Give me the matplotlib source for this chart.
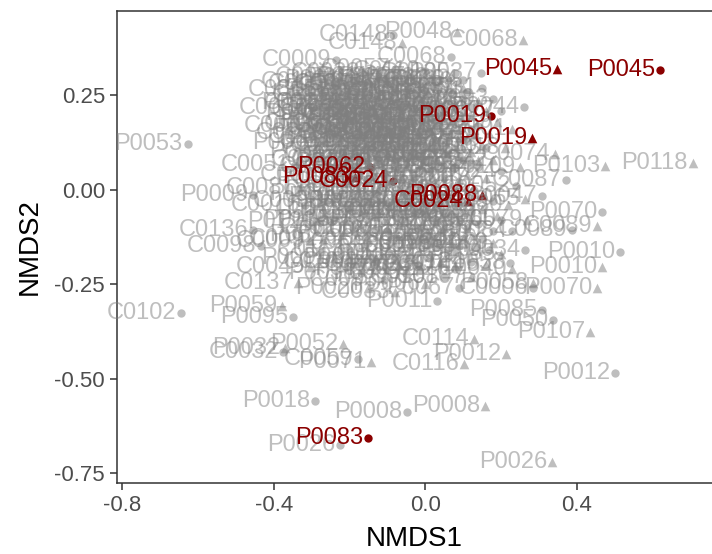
import matplotlib
matplotlib.use("Agg")
import matplotlib.pyplot as plt

plt.rcParams["font.family"] = ["Liberation Sans", "DejaVu Sans"]

# NMDS scores, method A (circles)
circle_ids = [
    "C0148", "C0068", "C0009", "P0037", "P0045", "P0044", "P0019", "C0087",
    "C0047", "P0070", "C0089", "P0010", "P0034", "P0058", "C0006", "P0085",
    "P0050", "P0012", "P0008", "P0083", "P0026", "P0018", "C0032", "C0059",
    "C0102", "P0095", "C0098", "C0136", "P0009", "P0053", "P0011",
    "C0135", "C0015", "C0056", "C0003", "P0015", "C0051", "C0081", "C0016",
    "P0128", "C0094", "C0023", "P0131", "C0057", "P0027", "C0110", "P0066",
    "C0125", "P0001", "C0031", "P0093", "C0077", "C0012", "P0040", "C0045",
    "P0016", "C0062", "P0078", "C0142", "P0029", "C0019", "P0039", "C0072",
    "P0097", "C0008", "P0060", "C0100", "P0004", "C0043", "P0080", "C0117",
    "C0130", "P0102", "C0035", "P0055", "C0127", "P0021", "C0061", "P0090",
    "C0106", "P0035", "C0083", "P0047", "C0071", "P0110", "C0029", "P0068",
    "C0097", "P0005", "C0119", "P0086", "C0044", "P0024", "C0017", "P0081",
    "C0063", "P0030", "C0105", "P0073", "C0082", "P0100", "C0128", "P0013",
    "C0052", "C0090", "P0057", "C0039", "P0092", "C0011", "P0113", "C0099",
    "P0003", "C0065", "P0116", "C0027", "P0049", "C0085", "P0076", "C0134",
    "P0061", "C0002", "P0099", "C0146", "P0084", "C0113", "P0064", "C0053",
    "P0031", "C0079", "P0115", "C0124", "P0038", "C0093", "P0065", "C0108",
    "P0067", "C0024", "P0062",
    "C0050", "P0017", "C0076", "P0114", "C0036", "P0094", "C0123", "P0063",
    "C0088", "P0069", "C0101", "P0022", "C0048", "P0087", "C0013", "P0105",
    "C0139", "P0051", "C0020", "P0077", "C0095", "P0101", "C0066", "P0028",
    "C0121", "P0043", "C0030", "P0098", "C0096", "P0007", "C0112", "P0075",
    "C0018", "P0111", "C0073", "P0036", "C0131", "P0089", "C0055", "P0023",
    "C0010", "P0117", "C0042", "P0109", "C0069", "P0041", "C0103",
    "P0082", "C0141", "P0046", "C0028", "P0072", "C0080", "P0056", "C0014",
    "P0104", "C0067", "P0033", "C0126",
]
circle_x = [
    -0.084, 0.069, -0.235, 0.148, 0.620, 0.261, 0.174, 0.372,
    0.309, 0.467, 0.388, 0.515, 0.264, 0.224, 0.285, 0.309,
    0.338, 0.502, -0.048, -0.150, -0.224, -0.290, -0.375, -0.177,
    -0.644, -0.349, -0.433, -0.454, -0.454, -0.628, 0.032,
    -0.238, -0.272, -0.296, -0.283, -0.264, -0.343, -0.330, -0.317,
    -0.277, -0.200, -0.160, -0.120, -0.080, -0.040, 0.000, 0.040,
    0.080, 0.110, 0.150, 0.180, 0.200, -0.210, -0.170, -0.130,
    -0.090, -0.050, -0.010, 0.030, 0.070, 0.120, -0.230, -0.190,
    -0.150, -0.110, -0.070, -0.030, 0.010, 0.050, 0.090, 0.140,
    -0.250, -0.210, -0.170, -0.130, -0.090, -0.050, -0.010, 0.030,
    0.070, 0.110, 0.160, -0.220, -0.180, -0.140, -0.100, -0.060,
    -0.020, 0.020, 0.060, 0.100, 0.140, 0.200, -0.240, -0.200,
    -0.110, -0.070, -0.030, 0.010, 0.050, 0.090, 0.130, 0.180,
    0.240, -0.260, -0.170, -0.130, -0.050, 0.000, 0.040, 0.080,
    0.120, 0.200, -0.240, -0.190, -0.140, -0.100, -0.060, -0.020,
    0.030, 0.070, 0.110, 0.150, 0.230, -0.200, -0.150, -0.090,
    -0.040, 0.010, 0.060, 0.120, -0.170, -0.110, -0.050, 0.050,
    0.090, -0.085, -0.145,
    -0.150, -0.100, -0.030, 0.020, 0.060, 0.100, -0.230, -0.180,
    -0.140, -0.090, -0.060, -0.020, 0.020, 0.060, 0.100, -0.200,
    -0.160, -0.120, -0.080, -0.040, 0.000, 0.040, 0.080, 0.120,
    -0.190, -0.150, -0.110, -0.070, -0.030, 0.010, 0.050, 0.090,
    -0.160, -0.120, -0.080, -0.040, 0.000, 0.040, 0.080, 0.120,
    -0.150, -0.040, 0.030, -0.090, -0.200, 0.100, -0.010,
    -0.120, -0.020, 0.060, 0.140, 0.180, -0.070, 0.030, 0.090,
    0.170, -0.130, -0.020, 0.080,
]
circle_y = [
    0.411, 0.353, 0.345, 0.310, 0.318, 0.220, 0.196, 0.027,
    -0.016, -0.058, -0.106, -0.164, -0.159, -0.193, -0.260, -0.318,
    -0.345, -0.485, -0.589, -0.658, -0.676, -0.560, -0.430, -0.448,
    -0.326, -0.337, -0.149, -0.106, -0.013, 0.122, -0.294,
    0.286, 0.265, 0.217, 0.170, 0.125, 0.066, 0.005, -0.040,
    -0.085, 0.300, 0.310, 0.295, 0.320, 0.300, 0.315, 0.290,
    0.310, 0.260, 0.270, 0.240, 0.210, 0.250, 0.260, 0.240,
    0.265, 0.250, 0.270, 0.245, 0.255, 0.220, 0.200, 0.215,
    0.195, 0.210, 0.190, 0.215, 0.200, 0.210, 0.190, 0.170,
    0.150, 0.160, 0.140, 0.165, 0.150, 0.160, 0.140, 0.170,
    0.150, 0.130, 0.110, 0.100, 0.090, 0.110, 0.095, 0.115,
    0.090, 0.110, 0.095, 0.080, 0.060, 0.050, 0.040, 0.030,
    0.040, 0.055, 0.030, 0.050, 0.030, 0.020, 0.000, -0.030,
    0.010, -0.030, -0.020, -0.010, -0.015, -0.030, -0.010, -0.040,
    -0.060, -0.080, -0.080, -0.100, -0.070, -0.110, -0.080, -0.100,
    -0.080, -0.120, -0.100, -0.130, -0.110, -0.160, -0.140, -0.170,
    -0.150, -0.180, -0.160, -0.190, -0.220, -0.240, -0.220, -0.230,
    -0.260, 0.024, 0.061,
    0.280, 0.280, 0.290, 0.275, 0.290, 0.290, 0.230, 0.240,
    0.215, 0.235, 0.220, 0.240, 0.225, 0.235, 0.240, 0.185,
    0.175, 0.190, 0.175, 0.190, 0.180, 0.195, 0.175, 0.160,
    0.130, 0.150, 0.130, 0.140, 0.125, 0.150, 0.120, 0.135,
    0.080, 0.070, 0.080, 0.090, 0.080, 0.060, 0.060, 0.070,
    0.020, 0.010, 0.000, -0.040, -0.050, -0.130, -0.060,
    -0.030, -0.050, -0.070, -0.090, -0.110, -0.130, -0.140, -0.150,
    -0.160, -0.190, -0.200, -0.210,
]

# NMDS scores, method B (triangles)
tri_ids = [
    "P0048", "C0148", "C0068", "P0045", "C0140", "P0019", "C0074", "P0103",
    "P0118", "C0065", "C0089", "P0010", "P0070", "C0040", "P0058", "P0107",
    "C0114", "P0012", "C0116", "P0008", "P0026", "P0052", "P0032", "P0071",
    "P0059", "C0137", "C0009", "C0049", "P0042",
    "C0050", "P0017", "C0076", "P0114", "C0036", "P0094", "C0123", "P0063",
    "C0088", "P0069", "C0101", "P0022", "C0048", "P0087", "C0013", "P0105",
    "C0139", "P0051", "C0020", "P0077", "C0095", "P0101", "C0066", "P0028",
    "C0121", "P0043", "C0030", "P0098", "C0096", "P0007", "C0112", "P0075",
    "C0018", "P0111", "C0073", "P0036", "C0131", "P0089", "C0055", "P0023",
    "C0010", "P0117", "C0042", "P0109", "C0069", "P0041", "C0103", "P0082",
    "C0141", "P0046", "C0028", "P0072", "C0080", "P0056", "C0014", "P0104",
    "C0067", "P0033", "C0126", "P0108", "C0034", "P0079", "C0092", "P0025",
    "C0129", "P0106", "C0046", "P0119", "C0120", "P0002", "C0060", "P0054",
    "C0070", "P0091", "C0109", "P0014", "C0037", "P0096", "C0078", "P0074",
    "C0115", "P0020", "C0033", "P0006", "C0107",
    "P0083", "C0024", "P0088",
    "C0135", "C0015", "C0056", "C0003", "P0015", "C0051", "C0081", "C0016",
    "P0128", "C0094", "C0023", "P0131", "C0057", "P0027", "C0110", "P0066",
    "C0125", "P0001", "C0031", "P0093", "C0077", "C0012", "P0040", "C0045",
    "P0016", "C0062", "P0078", "C0142", "P0029", "C0019", "P0039", "C0072",
    "P0097", "C0008", "P0060", "C0100", "P0004", "C0043", "P0080", "C0117",
    "C0130", "P0102", "C0035", "P0055",
    "C0090", "P0057", "C0039", "P0092", "C0011", "P0113", "C0099", "P0003",
    "C0027", "P0049", "C0085", "P0076",
]
tri_x = [
    0.084, -0.061, 0.259, 0.349, 0.087, 0.283, 0.343, 0.475,
    0.707, 0.264, 0.454, 0.467, 0.454, 0.230, 0.285, 0.436,
    0.129, 0.213, 0.103, 0.158, 0.335, -0.217, -0.370, -0.143,
    -0.378, -0.335, -0.304, -0.304, -0.013,
    -0.220, -0.180, -0.140, -0.100, -0.060, -0.020, 0.020, 0.060,
    0.140, 0.190, 0.230, -0.240, -0.200, -0.160, -0.120, -0.080,
    -0.040, 0.000, 0.040, 0.080, 0.120, 0.170, -0.230, -0.190,
    -0.150, -0.110, -0.070, -0.030, 0.010, 0.050, 0.090, 0.130,
    0.210, -0.200, -0.160, -0.120, -0.080, -0.040, 0.000, 0.040,
    0.080, 0.120, 0.180, 0.250, -0.190, -0.150, -0.050, -0.010,
    0.030, 0.070, 0.110, 0.160, 0.220, -0.220, -0.180, -0.100,
    -0.010, 0.020, 0.060, 0.100, 0.150, 0.270, -0.270, -0.220,
    -0.170, -0.120, -0.080, -0.030, 0.010, 0.050, 0.090, 0.130,
    0.180, -0.240, -0.180, -0.130, -0.070, -0.010, 0.030, 0.080,
    0.160, -0.150, -0.080, 0.000, 0.120,
    -0.185, 0.113, 0.150,
    -0.200, -0.160, -0.120, -0.050, 0.000, 0.100, 0.160, -0.210,
    -0.170, -0.130, -0.100, -0.060, -0.020, 0.020, 0.060, 0.100,
    -0.220, -0.180, -0.140, -0.060, -0.020, 0.020, 0.060, 0.100,
    0.150, -0.210, -0.130, -0.090, -0.030, 0.010, 0.050, 0.090,
    0.140, -0.120, -0.060, 0.020, 0.080, 0.130, -0.150, -0.040,
    0.050, -0.110, 0.120, -0.200,
    -0.100, -0.040, 0.040, 0.100, 0.190, -0.150, 0.070, 0.130,
    -0.040, 0.040, 0.200, -0.100,
]
tri_y = [
    0.419, 0.390, 0.398, 0.321, 0.286, 0.138, 0.095, 0.064,
    0.072, -0.024, -0.095, -0.204, -0.260, -0.211, -0.246, -0.377,
    -0.395, -0.435, -0.462, -0.573, -0.720, -0.408, -0.420, -0.456,
    -0.308, -0.247, -0.135, -0.205, -0.210,
    0.280, 0.290, 0.275, 0.300, 0.285, 0.270, 0.295, 0.270,
    0.235, 0.180, 0.160, 0.230, 0.230, 0.225, 0.255, 0.230,
    0.235, 0.225, 0.230, 0.225, 0.195, 0.150, 0.175, 0.185,
    0.170, 0.185, 0.170, 0.180, 0.165, 0.185, 0.160, 0.145,
    0.110, 0.120, 0.115, 0.130, 0.120, 0.135, 0.120, 0.135,
    0.115, 0.100, 0.080, 0.060, 0.060, 0.070, 0.075, 0.065,
    0.080, 0.060, 0.040, 0.030, -0.040, -0.010, 0.000, -0.030,
    0.010, -0.050, -0.020, -0.030, -0.050, -0.080, -0.130, -0.120,
    -0.060, -0.050, -0.060, -0.060, -0.120, -0.100, -0.080, -0.150,
    -0.140, -0.180, -0.190, -0.180, -0.200, -0.200, -0.150, -0.200,
    -0.200, -0.260, -0.270, -0.250, -0.230,
    0.034, -0.029, -0.013,
    0.265, 0.255, 0.225, 0.265, 0.255, 0.270, 0.210, 0.210,
    0.200, 0.200, 0.160, 0.200, 0.205, 0.190, 0.160, 0.210,
    0.140, 0.150, 0.145, 0.150, 0.155, 0.140, 0.140, 0.110,
    0.120, 0.080, 0.090, 0.100, 0.100, 0.095, 0.100, 0.090,
    0.080, 0.010, 0.030, 0.035, 0.010, -0.010, -0.030, -0.030,
    -0.060, -0.080, -0.080, -0.080,
    -0.100, -0.120, -0.030, -0.060, -0.070, -0.110, -0.140, -0.120,
    -0.170, -0.190, -0.170, -0.210,
]

# samples picked out in red
highlight = {"P0045", "P0019", "P0083", "P0062", "C0024", "P0088"}

grey = "#7f7f7f"
red = "#8b0000"

fig = plt.figure(figsize=(7.12, 5.54), dpi=100)
ax = fig.add_axes([0.164, 0.128, 0.836, 0.853])


def draw_group(ids, xs, ys, marker, size):
    hx = [x for n, x in zip(ids, xs) if n in highlight]
    hy = [y for n, y in zip(ids, ys) if n in highlight]
    gx = [x for n, x in zip(ids, xs) if n not in highlight]
    gy = [y for n, y in zip(ids, ys) if n not in highlight]
    ax.scatter(hx, hy, s=size, marker=marker, color=red, linewidths=0, zorder=2)
    ax.scatter(gx, gy, s=size, marker=marker, color=grey, alpha=0.5,
               linewidths=0, zorder=3)


def label_group(ids, xs, ys, red_pass):
    for n, x, y in zip(ids, xs, ys):
        if (n in highlight) != red_pass:
            continue
        ax.annotate(n, (x, y), xytext=(-3.5, 0), textcoords="offset points",
                    ha="right", va="center", fontsize=17,
                    color=red if red_pass else grey,
                    alpha=1.0 if red_pass else 0.5,
                    zorder=5 if red_pass else 4)


draw_group(circle_ids, circle_x, circle_y, "o", 36)
draw_group(tri_ids, tri_x, tri_y, "^", 48)
label_group(circle_ids, circle_x, circle_y, False)
label_group(tri_ids, tri_x, tri_y, False)
label_group(circle_ids, circle_x, circle_y, True)
label_group(tri_ids, tri_x, tri_y, True)

ax.set_xlim(-0.815, 0.758)
ax.set_ylim(-0.777, 0.475)
ax.set_xticks([-0.8, -0.4, 0.0, 0.4])
ax.set_xticklabels(["-0.8", "-0.4", "0.0", "0.4"])
ax.set_yticks([0.25, 0.0, -0.25, -0.5, -0.75])
ax.set_yticklabels(["0.25", "0.00", "-0.25", "-0.50", "-0.75"])
ax.tick_params(labelsize=16, labelcolor="#4d4d4d", color="#333333",
               length=5, width=1.1)
ax.set_xlabel("NMDS1", fontsize=20, labelpad=7)
ax.set_ylabel("NMDS2", fontsize=20, labelpad=8)
for side in ["left", "bottom", "top"]:
    ax.spines[side].set_color("#333333")
    ax.spines[side].set_linewidth(1.1)
ax.spines["right"].set_visible(False)

fig.savefig("out.png", dpi=100)
